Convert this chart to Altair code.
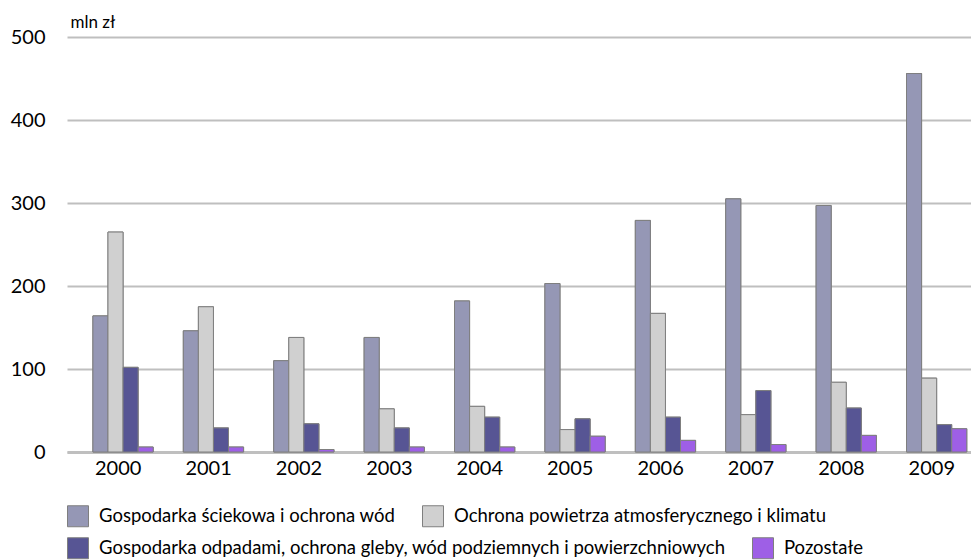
import altair as alt
import pandas as pd

# Environmental protection outlays by domain, mln zł
years = ["2000", "2001", "2002", "2003", "2004", "2005", "2006", "2007", "2008", "2009"]
series_names = [
    "Gospodarka ściekowa i ochrona wód",
    "Ochrona powietrza atmosferycznego i klimatu",
    "Gospodarka odpadami, ochrona gleby, wód podziemnych i powierzchniowych",
    "Pozostałe",
]
sciekowa = [164, 146, 110, 138, 182, 203, 279, 305, 297, 456]
powietrze = [265, 175, 138, 52, 55, 27, 167, 45, 84, 89]
odpady = [102, 29, 34, 29, 42, 40, 42, 74, 53, 33]
pozostale = [6, 6, 3, 6, 6, 19, 14, 9, 20, 28]
colors = ["#9597B5", "#D0D0D0", "#575594", "#9E5FE6"]

rows = []
for name, values in zip(series_names, [sciekowa, powietrze, odpady, pozostale]):
    for year, v in zip(years, values):
        rows.append({"rok": year, "kategoria": name, "wartosc": v})
df = pd.DataFrame(rows)

FONT = "Lato"


def legend_row(entries, y):
    # one horizontal legend row holding the given series
    return alt.Legend(
        title=None,
        values=entries,
        orient="none",
        legendX=0,
        legendY=y,
        direction="horizontal",
        columnPadding=24,
        symbolType="square",
        symbolSize=441,
        symbolStrokeColor="#7F7F7F",
        symbolStrokeWidth=1,
        labelFont=FONT,
        labelFontSize=18.5,
        labelColor="#000000",
        labelOffset=10,
        labelLimit=1000,
    )


def bars(legend):
    return (
        alt.Chart(df)
        .mark_bar(stroke="#7F7F7F", strokeWidth=1)
        .encode(
            x=alt.X(
                "rok:N",
                sort=years,
                scale=alt.Scale(paddingInner=0, paddingOuter=0),
                axis=alt.Axis(
                    title=None,
                    labelAngle=0,
                    labelFont=FONT,
                    labelFontSize=20,
                    labelColor="#000000",
                    labelPadding=6,
                    labelOffset=6,
                    ticks=False,
                    domainColor="#BFBFBF",
                    domainWidth=3,
                    grid=False,
                ),
            ),
            xOffset=alt.XOffset(
                "kategoria:N",
                sort=series_names,
                scale=alt.Scale(domain=series_names, paddingInner=0, paddingOuter=1, align=0.86),
            ),
            y=alt.Y(
                "wartosc:Q",
                scale=alt.Scale(domain=[0, 500], nice=False),
                axis=alt.Axis(
                    title="mln zł",
                    titleAngle=0,
                    titleAlign="left",
                    titleBaseline="alphabetic",
                    titleX=3,
                    titleY=-10,
                    titleFont=FONT,
                    titleFontSize=17,
                    titleFontWeight="normal",
                    titleColor="#000000",
                    values=[0, 100, 200, 300, 400, 500],
                    labelFont=FONT,
                    labelFontSize=20,
                    labelColor="#000000",
                    labelPadding=22,
                    ticks=False,
                    domain=False,
                    gridColor="#BFBFBF",
                    gridWidth=2,
                ),
            ),
            color=alt.Color(
                "kategoria:N",
                scale=alt.Scale(domain=series_names, range=colors),
                legend=legend,
            ),
        )
    )


top_row = bars(legend_row(series_names[:2], 468))
bottom_row = bars(legend_row(series_names[2:], 500))

chart = (
    alt.layer(top_row, bottom_row)
    .resolve_scale(color="independent")
    .properties(
        width=904,
        height=415,
        autosize=alt.AutoSizeParams(type="none"),
        padding={"left": 67, "top": 37, "right": 0, "bottom": 108},
    )
    .configure_view(stroke=None)
)

chart.save("out.html", embed_options={"renderer": "svg", "actions": False})
